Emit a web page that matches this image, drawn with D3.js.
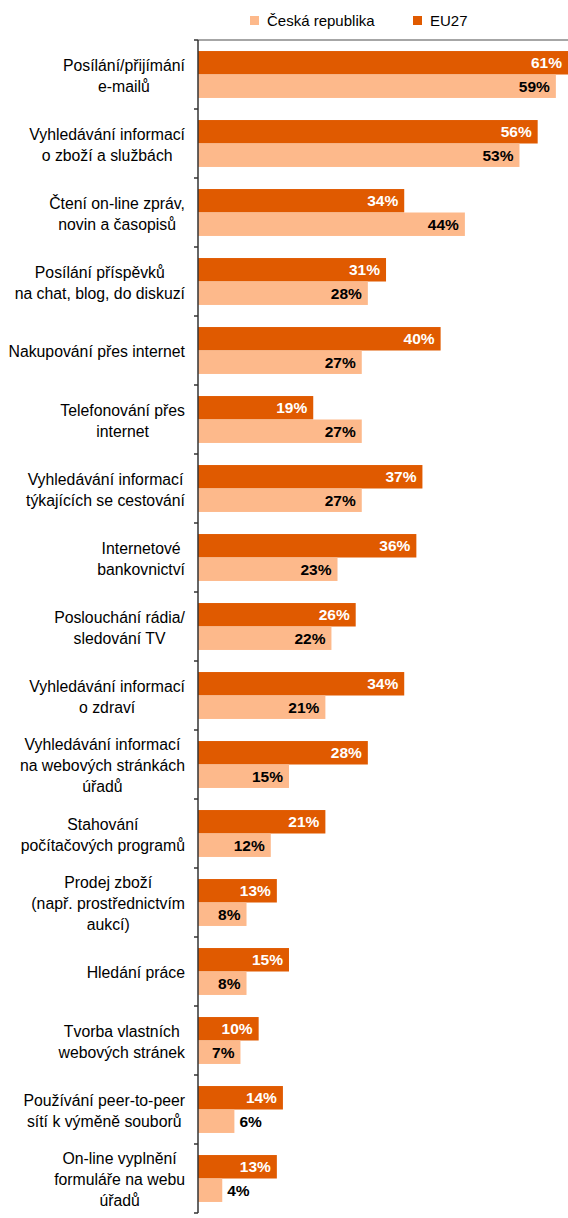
<!DOCTYPE html>
<html>
<head>
<meta charset="utf-8">
<script src="https://cdn.jsdelivr.net/npm/d3@7"></script>
<style>
  body { margin: 0; background: #fff; }
  text { font-family: "Liberation Sans", Arial, sans-serif; }
</style>
</head>
<body>
<svg id="chart" width="568" height="1218"></svg>
<script>
// categories (line breaks as in the original)
var categories = [
  "Posílání/přijímání\ne-mailů",
  "Vyhledávání informací\no zboží a službách",
  "Čtení on-line zpráv,\nnovin a časopisů",
  "Posílání příspěvků\nna chat, blog, do diskuzí",
  "Nakupování přes internet",
  "Telefonování přes\ninternet",
  "Vyhledávání informací\ntýkajících se cestování",
  "Internetové\nbankovnictví",
  "Poslouchání rádia/\nsledování TV",
  "Vyhledávání informací\no zdraví",
  "Vyhledávání informací\nna webových stránkách\núřadů",
  "Stahování\npočítačových programů",
  "Prodej zboží\n(např. prostřednictvím\naukcí)",
  "Hledání práce",
  "Tvorba vlastních\nwebových stránek",
  "Používání peer-to-peer\nsítí k výměně souborů",
  "On-line vyplnění\nformuláře na webu\núřadů"
]
var eu27 = [61, 56, 34, 31, 40, 19, 37, 36, 26, 34, 28, 21, 13, 15, 10, 14, 13]
var cz   = [59, 53, 44, 28, 27, 27, 27, 23, 22, 21, 15, 12, 8, 8, 7, 6, 4]
var seriesNames = ["Česká republika", "EU27"]

var colEU = "#e05a00", colCZ = "#fdb98b"

var svg = d3.select("#chart")
var plotL = 198, plotR = 568, plotT = 40, plotB = 1213

var x = d3.scaleLinear().domain([0, 61]).range([plotL, plotR])
var y = d3.scaleBand().domain(d3.range(categories.length)).range([plotT, plotB])
  .paddingInner(0.32).paddingOuter(0.16)
var inner = d3.scaleBand().domain(["EU27", "CZ"]).range([0, y.bandwidth()])

var rows = categories.map(function(c, i) {
  return {i: i, label: c, eu: eu27[i], cz: cz[i]}
})

// top border line
svg.append("line")
  .attr("x1", plotL).attr("x2", plotR).attr("y1", plotT).attr("y2", plotT)
  .attr("stroke", "#a6a6a6").attr("stroke-width", 2)

var bars = []
rows.forEach(function(d) {
  bars.push({i: d.i, s: "EU27", v: d.eu})
  bars.push({i: d.i, s: "CZ", v: d.cz})
})

svg.append("g").selectAll("rect")
  .data(bars)
  .enter()
  .append("rect")
  .attr("x", x(0))
  .attr("y", function(d) { return y(d.i) + inner(d.s) })
  .attr("width", function(d) { return x(d.v) - x(0) })
  .attr("height", inner.bandwidth())
  .attr("fill", function(d) { return d.s == "EU27" ? colEU : colCZ })

// value labels: inside the bar end, outside when bar is too short
svg.append("g").selectAll("text")
  .data(bars)
  .enter()
  .append("text")
  .attr("x", function(d) { return d.v >= 7 ? x(d.v) - 6 : x(d.v) + 5 })
  .attr("y", function(d) { return y(d.i) + inner(d.s) + inner.bandwidth() / 2 })
  .attr("dy", "0.36em")
  .attr("text-anchor", function(d) { return d.v >= 7 ? "end" : "start" })
  .attr("font-size", 15.5)
  .attr("font-weight", "bold")
  .attr("fill", function(d) { return d.s == "EU27" ? "#fff" : "#000" })
  .text(function(d) { return d.v + "%" })

// y axis line + ticks on category boundaries
svg.append("line")
  .attr("x1", plotL).attr("x2", plotL).attr("y1", plotT).attr("y2", plotB)
  .attr("stroke", "#333").attr("stroke-width", 1.5)
var step = y.step()
svg.append("g").selectAll("line")
  .data(d3.range(categories.length + 1))
  .enter()
  .append("line")
  .attr("x1", plotL - 4).attr("x2", plotL)
  .attr("y1", function(k) { return plotT + k * step })
  .attr("y2", function(k) { return plotT + k * step })
  .attr("stroke", "#333").attr("stroke-width", 1.5)

// category labels: block right-aligned, lines centered inside block
var lineH = 21
var labels = svg.append("g").selectAll("g")
  .data(rows)
  .enter()
  .append("g")
labels.each(function(d) {
  var g = d3.select(this)
  var lines = d.label.split("\n")
  var cy = y(d.i) + y.bandwidth() / 2 + 1
  var t = g.selectAll("text").data(lines).enter().append("text")
    .attr("font-size", 15.8)
    .attr("fill", "#000")
    .attr("text-anchor", "middle")
    .attr("dy", "0.35em")
    .attr("y", function(l, j) { return cy + (j - (lines.length - 1) / 2) * lineH })
    .text(function(l) { return l })
  var w = 0
  t.each(function() { w = Math.max(w, this.getComputedTextLength()) })
  t.attr("x", 185 - w / 2)
})

// legend
var legend = svg.append("g").selectAll("g")
  .data(seriesNames)
  .enter()
  .append("g")
  .attr("transform", function(d, i) { return "translate(" + (i == 0 ? 250 : 413) + ",16)" })
legend.append("rect")
  .attr("width", 9).attr("height", 9)
  .attr("fill", function(d, i) { return i == 0 ? colCZ : colEU })
legend.append("text")
  .attr("x", 17).attr("y", 4.5).attr("dy", "0.35em")
  .attr("font-size", 15)
  .text(function(d) { return d })
</script>
</body>
</html>
